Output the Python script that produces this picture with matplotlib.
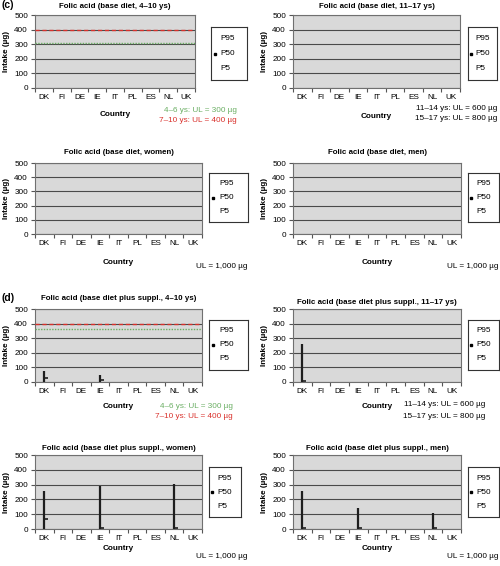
import numpy as np
import matplotlib
matplotlib.use("Agg")
import matplotlib.pyplot as plt

plt.rcParams["font.family"] = ["Liberation Sans", "DejaVu Sans"]

W, H = 500, 566
nan = np.nan

countries = ["DK", "FI", "DE", "IE", "IT", "PL", "ES", "NL", "UK"]
yticks = [0, 100, 200, 300, 400, 500]

titles = [
    "Folic acid (base diet, 4\u201310 ys)",
    "Folic acid (base diet, 11\u201317 ys)",
    "Folic acid (base diet, women)",
    "Folic acid (base diet, men)",
    "Folic acid (base diet plus suppl., 4\u201310 ys)",
    "Folic acid (base diet plus suppl., 11\u201317 ys)",
    "Folic acid (base diet plus suppl., women)",
    "Folic acid (base diet plus suppl., men)",
]

# base diet panels show no visible ranges
empty = [nan] * 9

# base diet plus supplements: P5 / P50 / P95 per country (ug)
child_p5 = [0, nan, nan, 0, nan, nan, nan, nan, nan]
child_p50 = [25, nan, nan, 15, nan, nan, nan, nan, nan]
child_p95 = [75, nan, nan, 45, nan, nan, nan, nan, nan]

teen_p5 = [0, nan, nan, nan, nan, nan, nan, nan, nan]
teen_p50 = [5, nan, nan, nan, nan, nan, nan, nan, nan]
teen_p95 = [260, nan, nan, nan, nan, nan, nan, nan, nan]

women_p5 = [0, nan, nan, 0, nan, nan, nan, 0, nan]
women_p50 = [65, nan, nan, 5, nan, nan, nan, 5, nan]
women_p95 = [260, nan, nan, 290, nan, nan, nan, 305, nan]

men_p5 = [0, nan, nan, 0, nan, nan, nan, 0, nan]
men_p50 = [5, nan, nan, 5, nan, nan, nan, 5, nan]
men_p95 = [260, nan, nan, 140, nan, nan, nan, 105, nan]

series = [
    (empty, empty, empty), (empty, empty, empty),
    (empty, empty, empty), (empty, empty, empty),
    (child_p5, child_p50, child_p95), (teen_p5, teen_p50, teen_p95),
    (women_p5, women_p50, women_p95), (men_p5, men_p50, men_p95),
]

# upper levels drawn in the 4-10 ys panels: (green, red)
ul_lines = {0: (310, 400), 4: (360, 400)}

GREY_BG = "#D9D9D9"
GRID = "#4a4a4a"
GREEN = "#6aae63"
RED = "#d9302b"
FS = 5.9
TFS = 5.7


def rect(x0, y0, x1, y1):
    return [x0 / W, 1 - y1 / H, (x1 - x0) / W, (y1 - y0) / H]


def ftext(x, y, s, **kw):
    fig.text(x / W, 1 - y / H, s, fontsize=kw.pop("fontsize", FS), **kw)


fig = plt.figure(figsize=(W / 100, H / 100), dpi=100, facecolor="white")

axes_px = [
    (35, 15, 195, 88), (293, 15, 460, 88),
    (35, 163, 202, 234), (293, 163, 461, 234),
    (35, 309, 202, 382), (293, 309, 461, 382),
    (35, 455, 202, 529), (293, 455, 461, 529),
]
legend_px = [
    (211, 27, 247, 80), (468, 27, 497, 80),
    (209, 173, 248, 222), (468, 173, 499, 222),
    (209, 320, 248, 370), (468, 320, 499, 370),
    (209, 467, 241, 517), (468, 467, 499, 517),
]
title_y = [7, 7, 153, 153, 298, 302, 448, 448]
country_y = [115, 117, 263, 263, 407, 406, 549, 549]

x = np.arange(len(countries)) + 0.5

for i, (x0, y0, x1, y1) in enumerate(axes_px):
    ax = fig.add_axes(rect(x0, y0, x1, y1))
    ax.set_facecolor(GREY_BG)
    ax.set_xlim(0, 9)
    ax.set_ylim(0, 500)
    ax.set_yticks(yticks)
    ax.set_yticklabels([str(v) for v in yticks], fontsize=FS)
    ax.set_xticks(np.arange(10))
    ax.set_xticklabels([])
    ax.set_xticks(x, minor=True)
    ax.set_xticklabels(countries, minor=True, fontsize=FS)
    ax.tick_params(axis="x", which="major", direction="out", length=3,
                   color="#555555")
    ax.tick_params(axis="x", which="minor", length=0, pad=4.5)
    ax.tick_params(axis="y", direction="out", length=3, color="#555555",
                   pad=2)
    ax.grid(True, axis="y", color=GRID, linewidth=0.8)
    ax.set_axisbelow(True)
    for sp in ax.spines.values():
        sp.set_color("#707070")
        sp.set_linewidth(0.8)
    ax.set_ylabel("Intake (\u00b5g)", fontsize=FS, fontweight="bold",
                  labelpad=3)

    if i in ul_lines:
        g, r = ul_lines[i]
        ax.axhline(g, color=GREEN, linestyle=(0, (1, 1)), linewidth=1.0,
                   zorder=3)
        ax.axhline(r, color=RED, linestyle=(0, (3, 2)), linewidth=1.0,
                   zorder=3)

    p5, p50, p95 = series[i]
    ax.vlines(x, p5, p95, color="#1e1e1e", linewidth=1.6, zorder=4)
    ax.plot(x, p50, linestyle="none", marker=1, markersize=3,
            markeredgewidth=1.2, color="#1e1e1e", zorder=5)

    cx = (x0 + x1) / 2
    ftext(cx, title_y[i], titles[i], ha="center", va="center",
          fontweight="bold", fontsize=TFS)
    ftext(cx, country_y[i], "Country", ha="center", va="center",
          fontweight="bold")

    # legend box
    lx0, ly0, lx1, ly1 = legend_px[i]
    lax = fig.add_axes(rect(lx0, ly0, lx1, ly1))
    lax.set_xlim(0, 1)
    lax.set_ylim(0, 1)
    lax.set_xticks([])
    lax.set_yticks([])
    for sp in lax.spines.values():
        sp.set_color("#333333")
        sp.set_linewidth(0.8)
    for yy, lab in zip([0.78, 0.5, 0.22], ["P95", "P50", "P5"]):
        lax.text(0.27, yy, lab, fontsize=FS, ha="left", va="center")
    lax.plot([0.1], [0.5], marker="s", markersize=2, color="black",
             clip_on=False)

# panel labels
ftext(2, 5, "(c)", fontsize=7.5, fontweight="bold", ha="left", va="center")
ftext(2, 298, "(d)", fontsize=7.5, fontweight="bold", ha="left", va="center")

# upper-level notes
for xr, yg, yr in [(237, 110, 120), (233, 406, 417)]:
    ftext(xr, yg, "4\u20136 ys: UL = 300 \u00b5g", color=GREEN, ha="right",
          va="center")
    ftext(xr, yr, "7\u201310 ys: UL = 400 \u00b5g", color=RED, ha="right",
          va="center")
for xr, ya, yb in [(497, 109, 119), (485, 405, 416)]:
    ftext(xr, ya, "11\u201314 ys: UL = 600 \u00b5g", ha="right", va="center")
    ftext(xr, yb, "15\u201317 ys: UL = 800 \u00b5g", ha="right", va="center")
for xr, yy in [(247, 267), (498, 267), (247, 557), (498, 557)]:
    ftext(xr, yy, "UL = 1,000 \u00b5g", ha="right", va="center")

fig.savefig("out.png", dpi=100, facecolor="white")
